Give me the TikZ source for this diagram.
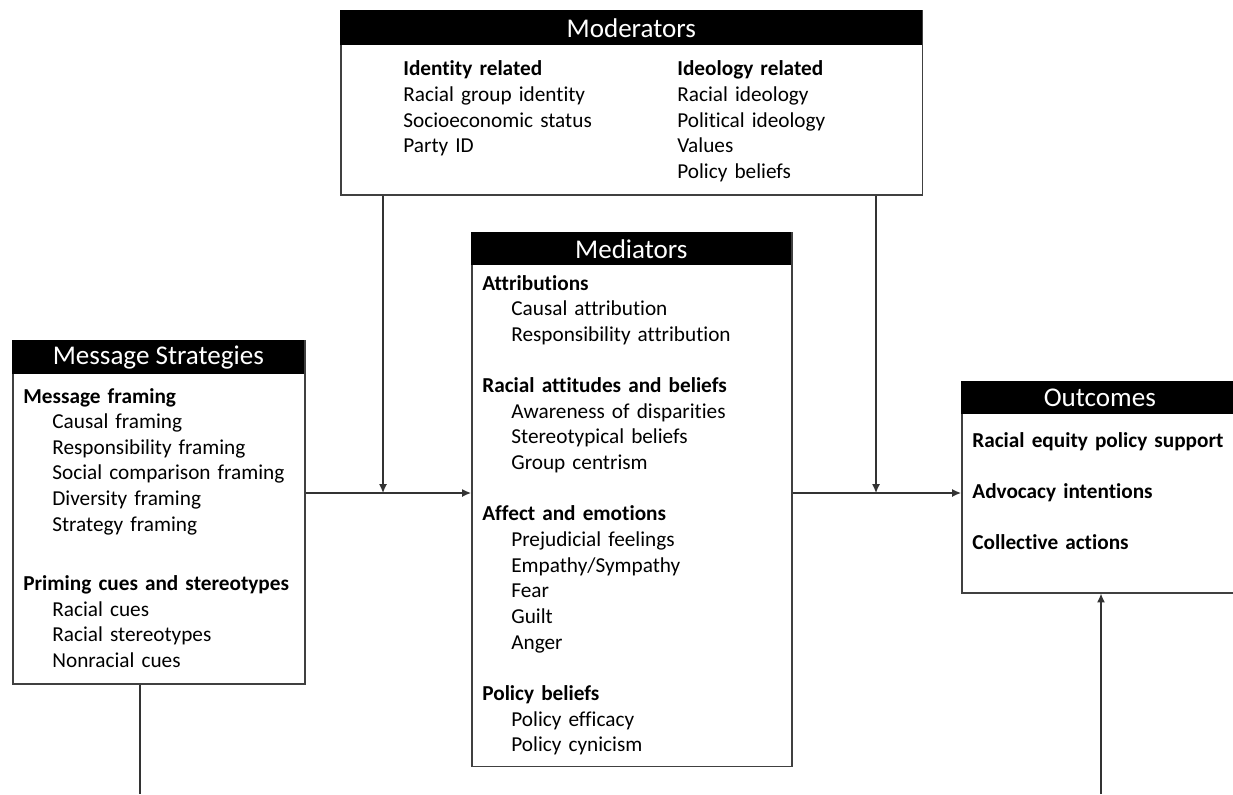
\documentclass[tikz,border=0pt]{standalone}
\usepackage{fontspec}
\setmainfont{Carlito}[Ligatures=NoCommon]
\usetikzlibrary{arrows.meta, positioning, calc}
\newcommand{\indt}{\hspace*{16.5pt}}
\tikzset{
  frame/.style={draw=black!75, line width=0.9pt, anchor=north west, inner sep=0pt},
  band/.style={fill=black, text=white, anchor=north west, inner sep=0pt, font=\fontsize{15.4}{18}\selectfont},
  entry/.style={anchor=base west, inner sep=0pt, align=left, text width=7cm, font=\fontsize{12.1}{14.6}\selectfont},
  link/.style={draw=black!80, line width=0.75pt},
  tip/.style={link, -{Latex[length=5pt,width=4.5pt]}}
}

\begin{document}
\begin{tikzpicture}[x=0.02cm, y=-0.02cm]
  \useasboundingbox (0,0) rectangle (1233,794);
  \clip (0,0) rectangle (1233,794);

  \node[frame, minimum width=11.64cm, minimum height=3.68cm] (mod) at (340,10) {};
  \node[band, minimum width=11.64cm, minimum height=0.7cm] (modh) at (mod.north west) {Moderators};
  \node[entry] (idt) at (403,76) {\textbf{Identity related}\\Racial group identity\\Socioeconomic status\\Party ID};
  \node[entry] (idl) at (677,76) {\textbf{Ideology related}\\Racial ideology\\Political ideology\\Values\\Policy beliefs};

  \node[frame, minimum width=6.4cm, minimum height=10.68cm] (med) at (471,232) {};
  \node[band, minimum width=6.4cm, minimum height=0.66cm] (medh) at (med.north west) {Mediators};
  \node[entry] (medt) at (482,290) {\textbf{Attributions}\\\indt Causal attribution\\\indt Responsibility attribution\\[14.6pt]
    \textbf{Racial attitudes and beliefs}\\\indt Awareness of disparities\\\indt Stereotypical beliefs\\\indt Group centrism\\[14.6pt]
    \textbf{Affect and emotions}\\\indt Prejudicial feelings\\\indt Empathy/Sympathy\\\indt Fear\\\indt Guilt\\\indt Anger\\[14.6pt]
    \textbf{Policy beliefs}\\\indt Policy efficacy\\\indt Policy cynicism};

  \node[frame, minimum width=5.84cm, minimum height=6.86cm] (msg) at (12,340) {};
  \node[band, minimum width=5.84cm, minimum height=0.68cm] (msgh) at (msg.north west) {Message Strategies};
  \node[entry] (msgt) at (23,403) {\textbf{Message framing}\\\indt Causal framing\\\indt Responsibility framing\\\indt Social comparison framing\\\indt Diversity framing\\\indt Strategy framing\\[19.2pt]
    \textbf{Priming cues and stereotypes}\\\indt Racial cues\\\indt Racial stereotypes\\\indt Nonracial cues};

  \node[frame, minimum width=5.54cm, minimum height=4.22cm] (out) at (961,381) {};
  \node[band, minimum width=5.54cm, minimum height=0.66cm] (outh) at (out.north west) {Outcomes};
  \node[entry] (outt) at (972,447) {\textbf{Racial equity policy support}\\[14.6pt]\textbf{Advocacy intentions}\\[14.6pt]\textbf{Collective actions}};

  \coordinate (jl) at (383,493);
  \coordinate (jr) at (876,493);
  \coordinate (bl) at (140,794);
  \coordinate (br) at (1101,794);

  \draw[tip] (mod.south -| jl) -- (jl);
  \draw[tip] (mod.south -| jr) -- (jr);
  \draw[tip] (msg.east |- jl) -- (med.west |- jl);
  \draw[tip] (med.east |- jr) -- (out.west |- jr);
  \draw[link] (msg.south -| bl) -- (bl);
  \draw[tip] (br) -- (out.south -| br);
\end{tikzpicture}
\end{document}
